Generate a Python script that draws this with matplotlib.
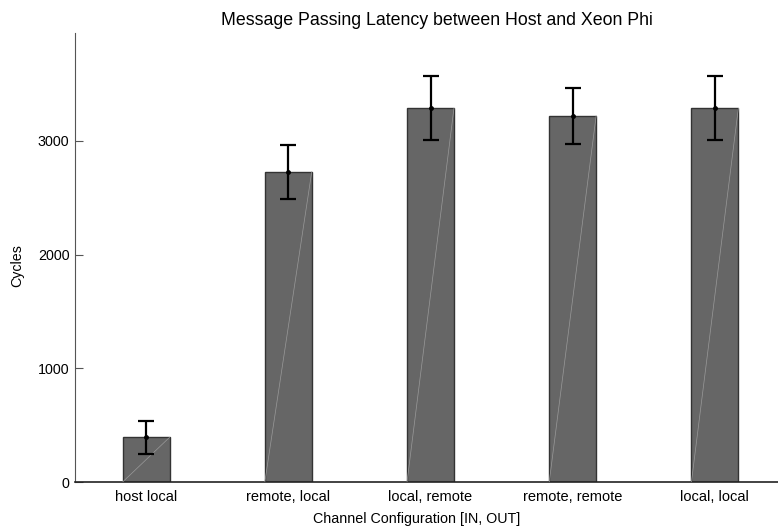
import matplotlib
matplotlib.use("Agg")
import matplotlib.pyplot as plt
import numpy as np

plt.rcParams['font.family'] = ['Liberation Sans', 'DejaVu Sans']

configs = ['host local', 'remote, local', 'local, remote', 'remote, remote', 'local, local']
cycles = [393, 2730, 3288, 3222, 3288]
errs = [143, 238, 283, 247, 282]

fig = plt.figure(figsize=(7.78, 5.29), dpi=100)
ax = fig.add_axes([75 / 778, 47 / 529, 711 / 778, 449 / 529])

x = np.arange(len(configs))
w = 0.33
ax.bar(x, cycles, width=w, color='#666666', edgecolor='#333333', linewidth=1.0, zorder=2)
# thin light diagonal inside each bar
for xi, h in zip(x, cycles):
    ax.plot([xi - w / 2, xi + w / 2], [0, h], color='#9a9a9a', linewidth=0.5, zorder=3)
ax.errorbar(x, cycles, yerr=errs, fmt='o', color='black', markersize=2.5,
            elinewidth=1.6, capsize=5.5, capthick=1.6, zorder=4)

ax.set_xlim(-0.5, 4.5)
ax.set_ylim(0, 3950)
ax.set_yticks([0, 1000, 2000, 3000])
ax.set_xticks(x)
ax.set_xticklabels(configs)
ax.tick_params(axis='y', direction='in', length=6, color='#555555', labelsize=10.3, pad=4)
ax.tick_params(axis='x', length=0, labelsize=10.5, pad=6)

ax.spines['top'].set_visible(False)
ax.spines['right'].set_visible(False)
ax.spines['left'].set_color('#555555')
ax.spines['bottom'].set_color('#222222')
ax.spines['bottom'].set_linewidth(1.2)

ax.set_ylabel('Cycles', fontsize=10.3)
ax.yaxis.set_label_coords(-0.072, 0.483)
ax.set_xlabel('Channel Configuration [IN, OUT]', fontsize=10.3)
ax.xaxis.set_label_coords(0.48, -0.066)
ax.set_title('Message Passing Latency between Host and Xeon Phi', fontsize=12.8, x=0.509, pad=6)

fig.savefig('out.png', dpi=100)
